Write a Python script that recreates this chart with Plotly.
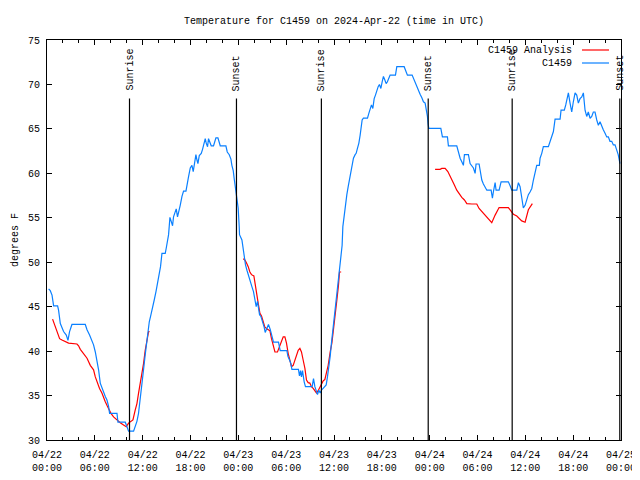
import pandas as pd
import plotly.graph_objects as go

# ---- data (hours since 2024-04-22 00:00 UTC, temperature in degrees F) ----
station_hours = [0.20, 0.41, 0.63, 0.75, 0.83, 1.33, 1.45, 1.67, 1.88, 2.08, 2.42, 2.63, 2.83, 3.13, 4.80,
                 5.02, 5.34, 5.64, 5.84, 6.06, 6.27, 6.47, 6.68, 6.90, 7.10, 7.31, 7.52, 7.72, 7.85, 8.78,
                 8.90, 9.82, 10.03, 10.23, 10.86, 11.07, 11.28, 11.48, 11.70, 11.91, 12.11, 12.32, 12.54, 12.74,
                 12.83, 13.04, 13.24, 13.45, 13.67, 13.87, 14.08, 14.24, 14.42, 14.83, 14.96, 15.08, 15.25, 15.33,
                 15.42, 15.58, 15.75, 15.87, 16.09, 16.21, 16.37, 16.50, 16.71, 16.93, 17.13, 17.43, 17.55, 17.75,
                 17.97, 18.18, 18.34, 18.51, 18.68, 18.81, 18.93, 19.10, 19.35, 19.51, 19.68, 19.85, 19.97, 20.14,
                 20.26, 20.47, 20.60, 20.89, 21.01, 21.19, 21.44, 21.60, 21.73, 22.44, 22.61, 22.86, 23.07, 23.19,
                 23.36, 23.48, 23.61, 23.73, 23.86, 23.98, 24.11, 24.15, 24.45, 24.57, 24.74, 24.90, 25.08, 25.28,
                 25.49, 25.70, 25.90, 26.12, 26.24, 26.40, 26.53, 26.66, 26.83, 27.08, 27.24, 27.37, 27.58, 27.78,
                 28.00, 28.21, 28.41, 29.04, 29.25, 30.09, 30.22, 30.42, 30.59, 30.72, 31.54, 31.67, 31.80, 31.92,
                 32.05, 32.26, 32.42, 33.26, 33.43, 33.60, 33.76, 33.93, 34.10, 34.27, 34.43, 34.60, 34.77, 35.02,
                 35.18, 35.36, 35.52, 35.68, 35.86, 36.02, 36.18, 36.36, 36.52, 36.69, 36.86, 37.02, 37.11, 37.27,
                 37.40, 37.61, 37.78, 37.94, 38.11, 38.28, 38.44, 38.65, 38.78, 38.94, 39.12, 39.28, 39.41, 39.53,
                 39.69, 40.20, 40.37, 40.53, 40.70, 40.87, 40.95, 41.04, 41.20, 41.37, 41.54, 41.70, 41.88, 42.04,
                 42.20, 42.38, 42.54, 42.70, 42.88, 43.04, 43.71, 43.88, 44.80, 44.96, 45.21, 45.80, 45.96, 46.18,
                 46.39, 46.59, 46.80, 47.02, 47.22, 47.43, 47.64, 47.72, 47.80, 47.89, 49.40, 49.60, 50.23, 50.35,
                 51.40, 51.61, 51.82, 52.03, 52.23, 52.36, 52.86, 53.07, 53.29, 53.49, 53.70, 53.82, 54.20, 54.32,
                 54.54, 54.74, 54.95, 55.17, 55.71, 55.87, 55.99, 56.21, 56.33, 56.71, 56.96, 57.87, 58.09, 58.30,
                 58.93, 59.13, 59.34, 59.55, 59.75, 59.97, 60.18, 60.38, 60.59, 60.81, 61.01, 61.22, 61.43, 61.76,
                 61.85, 62.06, 62.26, 62.89, 63.10, 63.31, 63.52, 63.73, 64.36, 64.48, 64.89, 65.07, 65.23, 65.40,
                 65.61, 65.82, 66.02, 66.24, 66.45, 66.65, 66.86, 67.08, 67.28, 67.49, 67.70, 67.90, 68.12, 68.33,
                 68.53, 68.74, 68.96, 69.16, 69.37, 69.58, 69.78, 70.00, 70.21, 70.41, 70.62, 70.84, 71.04, 71.25,
                 71.46, 71.65, 71.87]
station_temps = [47.0, 46.8, 46.3, 45.6, 45.1, 45.1, 44.6, 43.1, 42.7, 42.2, 41.8, 41.2, 42.2, 43.0, 43.0,
                 42.4, 41.8, 41.2, 40.7, 39.9, 39.0, 37.9, 36.4, 35.8, 35.4, 34.9, 34.5, 33.8, 33.0, 33.0,
                 32.0, 32.0, 31.5, 31.0, 31.0, 31.5, 32.1, 33.0, 34.5, 36.0, 37.9, 39.6, 41.2, 42.7,
                 43.3, 44.1, 44.8, 45.75, 46.7, 47.6, 48.6, 49.5, 51.0, 51.0, 51.6, 52.1, 53.1, 54.0,
                 55.05, 54.6, 54.1, 55.1, 55.7, 56.0, 55.1, 55.5, 56.4, 57.4, 58.0, 58.0, 58.7, 59.6,
                 60.6, 60.9, 60.2, 61.1, 62.1, 61.5, 61.1, 62.0, 62.25, 62.7, 63.4, 63.9, 63.4, 63.0,
                 63.9, 63.4, 63.1, 63.1, 63.6, 64.0, 64.0, 63.4, 63.1, 63.1, 62.4, 62.1, 61.6, 60.9,
                 60.3, 59.4, 58.5, 57.9, 57.3, 56.1, 54.0, 53.1, 52.5, 51.6, 50.4, 49.7, 49.1, 48.4,
                 47.8, 47.25, 46.7, 45.6, 45.0, 45.6, 44.6, 44.1, 43.9, 43.3, 42.7, 42.1, 42.6, 43.0,
                 42.45, 41.6, 41.0, 41.0, 40.05, 40.05, 39.4, 39.0, 38.6, 37.95, 37.95, 37.2, 37.8, 37.1,
                 37.8, 36.55, 36.0, 36.0, 36.9, 36.0, 35.6, 35.1, 35.6, 35.3, 35.6, 35.8, 36.0, 36.2,
                 37.1, 38.1, 39.4, 40.9, 42.4, 43.9, 45.4, 46.9, 48.4, 49.5, 50.6, 51.9, 54.0, 55.3,
                 56.25, 57.6, 58.5, 59.4, 60.2, 60.9, 61.7, 62.1, 62.25, 62.8, 63.4, 64.3, 65.25, 66.0,
                 66.2, 66.2, 66.75, 67.3, 67.7, 67.3, 67.9, 68.4, 68.8, 69.4, 69.75, 70.0, 69.55, 70.3,
                 70.9, 70.5, 70.1, 70.3, 70.7, 71.05, 71.05, 72.0, 72.0, 71.6, 71.05, 71.05, 70.7, 70.1,
                 69.75, 69.4, 68.9, 68.5, 68.05, 67.9, 66.9, 66.4, 65.6, 65.05, 65.05, 64.1, 64.1, 63.1,
                 63.1, 62.25, 61.7, 61.3, 60.9, 62.1, 62.1, 61.1, 60.75, 60.6, 60.0, 61.05, 61.05, 60.2,
                 59.25, 58.8, 58.5, 58.1, 58.1, 57.2, 57.9, 58.95, 58.1, 58.1, 59.05, 59.05, 58.6, 58.1,
                 58.1, 58.95, 58.5, 57.4, 56.1, 56.4, 57.0, 57.6, 57.9, 58.3, 59.25, 60.0, 60.9, 60.9,
                 61.7, 62.25, 63.0, 63.0, 63.6, 64.1, 64.7, 66.1, 66.1, 67.1, 67.1, 67.7, 68.4, 69.05,
                 67.9, 66.9, 68.05, 69.05, 68.8, 67.9, 68.4, 68.6, 69.05, 67.1, 66.4, 66.9, 66.2, 66.4,
                 66.9, 66.9, 66.0, 65.4, 65.8, 65.25, 64.9, 64.5, 64.1, 64.1, 63.6, 63.6, 63.2, 63.2,
                 62.6, 62.1, 61.1]

analysis_hours = [0.70, 0.92, 1.13, 1.33, 1.58, 1.88, 2.29, 2.71, 3.76, 3.96, 4.18, 4.59, 5.02, 5.43, 5.84,
                  6.06, 6.27, 6.59, 6.90, 7.10, 7.31, 7.52, 7.72, 8.02, 8.35, 8.78, 9.19, 9.60, 9.94, 10.23,
                  10.53, 10.78, 11.07, 11.28, 11.48, 11.70, 11.91, 12.11, 12.32, 12.54, 12.74, 12.86,
                  None,
                  24.61, 24.82, 25.03, 25.24, 25.45, 25.65, 25.95, 26.08, 26.20, 26.37, 26.49, 26.71, 26.91,
                  27.12, 27.33, 27.66, 27.96, 28.16, 28.37, 28.59, 28.91, 29.21, 29.41, 29.63, 29.84, 30.04,
                  30.25, 30.47, 30.67, 30.88, 31.09, 31.29, 31.51, 31.72, 31.92, 32.13, 32.35, 32.55, 32.76,
                  32.97, 33.17, 33.39, 33.60, 33.80, 34.01, 34.23, 34.43, 34.64, 34.85, 35.06, 35.27, 35.52,
                  35.73, 35.93, 36.15, 36.36, 36.56, 36.69, 36.90,
                  None,
                  48.68, 49.31, 49.52, 49.94, 50.28, 50.57, 50.85, 51.10, 51.40, 51.69, 52.03, 52.36, 52.66,
                  53.29, 53.91, 54.20, 54.54, 54.95, 55.37, 55.79, 56.21, 56.71, 57.87, 58.21, 58.50, 58.93,
                  59.34, 59.55, 59.97, 60.38, 60.88]
analysis_temps = [43.6, 43.1, 42.6, 42.0, 41.4, 41.25, 41.05, 40.9, 40.8, 40.6, 40.2, 39.75, 39.2, 38.4, 37.9,
                  37.1, 36.55, 35.8, 35.25, 34.7, 34.3, 33.9, 33.45, 33.0, 32.6, 32.25, 31.95, 31.7, 31.5, 31.9,
                  32.1, 32.25, 33.4, 34.1, 35.25, 36.4, 37.3, 38.6, 40.1, 41.25, 42.2, 42.2,
                  None,
                  50.4, 50.25, 49.9, 49.5, 48.9, 48.6, 48.45, 47.6, 46.7, 45.9, 45.4, 44.25, 43.95,
                  43.3, 42.7, 42.45, 42.3, 41.4, 40.7, 39.9, 39.9, 40.6, 41.05, 41.6, 41.6, 40.9,
                  39.75, 39.0, 38.25, 38.4, 39.0, 39.55, 40.1, 40.3, 39.9, 39.0, 38.05, 36.75, 36.45,
                  36.4, 36.0, 35.8, 35.55, 35.3, 35.55, 36.0, 36.4, 36.65, 36.8, 37.5, 38.4, 39.9,
                  40.9, 42.4, 43.9, 45.75, 47.4, 48.9, 48.9,
                  None,
                  60.45, 60.45, 60.55, 60.55, 60.2, 59.7, 59.25, 58.7, 58.1, 57.7, 57.3, 57.0, 56.6,
                  56.55, 56.55, 56.05, 55.7, 55.3, 54.9, 54.45, 55.3, 56.15, 56.15, 55.8, 55.4, 55.2,
                  54.8, 54.65, 54.5, 55.9, 56.6]

event_names = ["Sunrise", "Sunset", "Sunrise", "Sunset", "Sunrise", "Sunset"]
event_times = ["2024-04-22 10:21", "2024-04-22 23:46", "2024-04-23 10:25",
               "2024-04-23 23:49", "2024-04-24 10:21", "2024-04-24 23:51"]

series_names = ["C1459 Analysis", "C1459"]
series_colors = ["#ff0000", "#0a80ff"]
y_ticks = [30, 35, 40, 45, 50, 55, 60, 65, 70, 75]

start = pd.Timestamp("2024-04-22 00:00")
end = pd.Timestamp("2024-04-25 00:00")


def to_time(hours):
    return [None if h is None else start + pd.Timedelta(hours=h) for h in hours]


FONT = "Liberation Mono, DejaVu Sans Mono, monospace"

# page has an 8px body margin; figure sized so the plot box lands at 47..621 x 40..440
W, H = 632, 472
ML, MR, MT, MB = 39, 19, 32, 40
PW = W - ML - MR
PH = H - MT - MB

fig = go.Figure()
fig.add_trace(go.Scatter(x=to_time(analysis_hours), y=analysis_temps, mode="lines",
                         name=series_names[0], connectgaps=False,
                         line=dict(color=series_colors[0], width=1.2)))
fig.add_trace(go.Scatter(x=to_time(station_hours), y=station_temps, mode="lines",
                         name=series_names[1],
                         line=dict(color=series_colors[1], width=1.2)))

# sunrise / sunset markers
for name, t in zip(event_names, event_times):
    fig.add_shape(type="line", xref="x", yref="paper", x0=t, x1=t, y0=0, y1=1 - 58.5 / PH,
                  line=dict(color="black", width=1.2))
    fig.add_annotation(x=t, y=1 - 53 / PH, xref="x", yref="paper", text=name, textangle=-90,
                       showarrow=False, xanchor="center", yanchor="bottom",
                       font=dict(family=FONT, size=10, color="black"))

# gnuplot-style legend (text right-aligned, sample to the right)
for i, (nm, col) in enumerate(zip(series_names, series_colors)):
    ypos = 1 - (10 + 13 * i) / PH
    fig.add_annotation(x=(574 - 47) / PW, y=ypos, xref="paper", yref="paper", text=nm, showarrow=False,
                       xanchor="right", yanchor="middle",
                       font=dict(family=FONT, size=10, color="black"))
    fig.add_shape(type="line", xref="paper", yref="paper", x0=(582 - 47) / PW, x1=(609 - 47) / PW,
                  y0=ypos, y1=ypos, line=dict(color=col, width=1.2))

# y-axis label
fig.add_annotation(x=(15 - 47) / PW, y=0.5, xref="paper", yref="paper", text="degrees F", textangle=-90,
                   showarrow=False, xanchor="center", yanchor="middle",
                   font=dict(family=FONT, size=10, color="black"))

fig.update_layout(
    width=W, height=H, autosize=False,
    margin=dict(l=ML, r=MR, t=MT, b=MB, pad=0),
    paper_bgcolor="white", plot_bgcolor="white",
    showlegend=False,
    font=dict(family=FONT, size=10, color="black"),
    title=dict(text="Temperature for C1459 on 2024-Apr-22 (time in UTC)",
               x=0.5, xref="paper", xanchor="center",
               y=1 - 12 / H, yref="container", yanchor="middle",
               font=dict(family=FONT, size=10, color="black")),
    xaxis=dict(range=[start, end], type="date", tick0=start, dtick=6 * 3600 * 1000,
               tickformat="%m/%d<br>%H:%M", ticks="inside", ticklen=5, tickcolor="black",
               showline=True, linecolor="black", linewidth=1, mirror="allticks",
               showgrid=False, zeroline=False, automargin=False, ticklabelstandoff=5,
               minor=dict(dtick=2 * 3600 * 1000, ticks="inside", ticklen=3, tickcolor="black",
                          showgrid=False)),
    yaxis=dict(range=[30, 75], tickvals=y_ticks, ticks="inside", ticklen=5, tickcolor="black",
               showline=True, linecolor="black", linewidth=1, mirror="allticks",
               showgrid=False, zeroline=False, automargin=False, ticklabelstandoff=4),
)

fig.write_html("out.html")
